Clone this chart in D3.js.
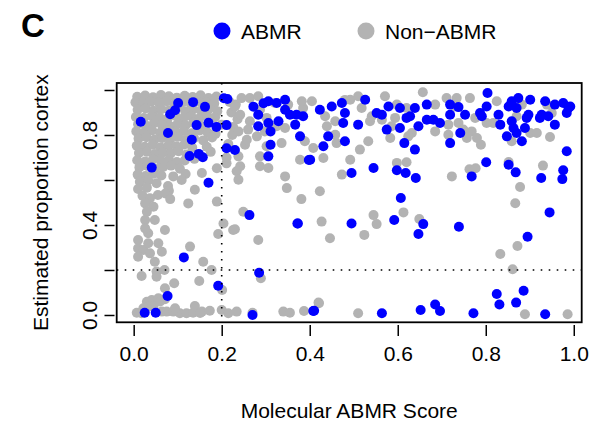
<!DOCTYPE html>
<html><head><meta charset="utf-8">
<script src="https://cdn.jsdelivr.net/npm/d3@7"></script>
<style>body{margin:0;background:#fff}</style>
</head><body>
<svg id="c" width="591" height="424"></svg>
<script>
const xTicks = [0, 0.2, 0.4, 0.6, 0.8, 1.0];
const xTickLabels = ["0.0", "0.2", "0.4", "0.6", "0.8", "1.0"];
const yTicks = [0, 0.2, 0.4, 0.6, 0.8, 1.0];
const yTickLabels = ["0.0", "", "0.4", "", "0.8", ""];
const legendLabels = ["ABMR", "Non\u2212ABMR"];
const seriesColors = ["#0000FF", "#B3B3B3"];
const thresholds = [0.2, 0.2];

const abmrPoints = [
[0.016,0.859],[0.041,0.655],[0.17,0.588],[0.263,0.444],[0.114,0.256],[0.285,0.188],[0.192,0.13],
[0.077,0.084],[0.05,0.01],[0.025,0.01],[0.41,0.019],[0.373,0.407],[0.398,0.689],[0.083,0.892],
[0.094,0.91],[0.101,0.942],[0.135,0.946],[0.162,0.925],[0.143,0.844],[0.17,0.854],[0.188,0.836],
[0.132,0.779],[0.078,0.809],[0.127,0.707],[0.148,0.716],[0.157,0.701],[0.211,0.844],[0.205,0.963],
[0.213,0.96],[0.211,0.741],[0.23,0.733],[0.27,0.0],
[0.272,0.926],[0.295,0.941],[0.306,0.95],[0.325,0.942],[0.344,0.957],[0.344,0.912],[0.355,0.89],
[0.283,0.89],[0.283,0.839],[0.306,0.853],[0.329,0.861],[0.311,0.816],[0.311,0.757],[0.306,0.705],
[0.37,0.89],[0.385,0.883],[0.367,0.846],[0.378,0.794],[0.401,0.69],[0.423,0.912],[0.45,0.927],
[0.473,0.942],[0.48,0.898],[0.476,0.853],[0.442,0.794],[0.431,0.75],[0.48,0.772],[0.495,0.631],
[0.372,0.407],[0.495,0.407],[0.408,0.018],
[0.526,0.957],[0.579,0.927],[0.605,0.92],[0.639,0.92],[0.666,0.935],[0.719,0.935],[0.738,0.924],
[0.753,0.89],[0.564,0.89],[0.552,0.898],[0.62,0.876],[0.628,0.883],[0.666,0.868],[0.681,0.868],
[0.696,0.853],[0.719,0.89],[0.51,0.846],[0.575,0.824],[0.605,0.831],[0.647,0.839],[0.742,0.809],
[0.615,0.764],[0.639,0.735],[0.719,0.764],[0.545,0.653],[0.598,0.643],[0.618,0.631],[0.641,0.609],
[0.768,0.616],[0.607,0.52],[0.592,0.422],[0.658,0.404],[0.647,0.36],[0.739,0.392],[0.564,0.008],
[0.652,0.022],[0.685,0.047],[0.696,0.018],[0.772,0.008],
[0.804,0.987],[0.802,0.927],[0.787,0.898],[0.791,0.883],[0.829,0.89],[0.852,0.927],[0.859,0.95],
[0.874,0.964],[0.87,0.92],[0.901,0.957],[0.897,0.89],[0.893,0.876],[0.935,0.95],[0.927,0.89],
[0.923,0.876],[0.942,0.883],[0.957,0.935],[0.976,0.942],[0.988,0.92],[0.992,0.927],[0.984,0.898],
[0.957,0.846],[0.859,0.861],[0.863,0.831],[0.87,0.809],[0.889,0.831],[0.848,0.794],[0.882,0.772],
[0.833,0.846],[0.984,0.728],[0.801,0.679],[0.852,0.668],[0.868,0.634],[0.926,0.609],[0.976,0.643],
[0.974,0.604],[0.945,0.456],[0.895,0.348],[0.886,0.108],[0.825,0.093],[0.831,0.047],[0.869,0.055],
[0.935,0.003]
];

const nonAbmrPoints = [
[0.008,0.97],[0.026,0.975],[0.044,0.968],[0.062,0.978],[0.08,0.972],[0.098,0.966],[0.116,0.974],[0.134,0.969],[0.152,0.977],[0.17,0.964],[0.188,0.971],
[0.004,0.945],[0.021,0.94],[0.039,0.948],[0.057,0.943],[0.075,0.95],[0.093,0.938],[0.111,0.946],[0.129,0.941],[0.147,0.949],[0.165,0.944],[0.183,0.94],[0.218,0.947],[0.232,0.936],
[0.009,0.912],[0.027,0.918],[0.045,0.908],[0.063,0.915],[0.081,0.91],[0.099,0.92],[0.117,0.906],[0.135,0.914],[0.153,0.909],[0.171,0.917],[0.19,0.905],[0.222,0.9],
[0.005,0.88],[0.023,0.876],[0.041,0.884],[0.059,0.878],[0.077,0.872],[0.095,0.886],[0.113,0.875],[0.131,0.882],[0.149,0.874],[0.167,0.887],[0.185,0.879],[0.236,0.87],
[0.01,0.848],[0.028,0.842],[0.046,0.852],[0.064,0.845],[0.082,0.84],[0.1,0.85],[0.118,0.843],[0.136,0.855],[0.154,0.838],[0.2,0.846],[0.226,0.835],
[0.006,0.816],[0.024,0.812],[0.042,0.82],[0.06,0.81],[0.078,0.822],[0.096,0.814],[0.114,0.818],[0.132,0.808],[0.15,0.82],[0.168,0.811],[0.186,0.805],
[0.011,0.784],[0.029,0.79],[0.047,0.779],[0.065,0.787],[0.083,0.781],[0.101,0.792],[0.119,0.778],[0.137,0.786],[0.158,0.776],[0.178,0.789],[0.224,0.8],
[0.007,0.752],[0.025,0.748],[0.043,0.757],[0.061,0.745],[0.079,0.754],[0.097,0.75],[0.115,0.758],[0.133,0.744],[0.166,0.748],[0.215,0.76],
[0.012,0.72],[0.03,0.726],[0.048,0.715],[0.066,0.722],[0.084,0.718],[0.102,0.728],[0.12,0.713],[0.175,0.725],
[0.008,0.688],[0.026,0.682],[0.044,0.692],[0.062,0.685],[0.08,0.69],[0.098,0.68],[0.116,0.687],[0.138,0.694],
[0.013,0.656],[0.031,0.662],[0.049,0.651],[0.067,0.658],[0.085,0.664],[0.105,0.65],
[0.009,0.624],[0.027,0.618],[0.045,0.628],[0.063,0.62],[0.09,0.616],[0.118,0.627],[0.155,0.631],
[0.014,0.592],[0.033,0.598],[0.052,0.586],[0.078,0.573],[0.109,0.6],[0.139,0.557],
[0.01,0.56],[0.03,0.566],[0.055,0.533],[0.08,0.552],
[0.02,0.53],[0.037,0.519],[0.072,0.54],
[0.189,0.652],[0.211,0.674],[0.211,0.70],
[0.124,0.496],[0.083,0.515],[0.189,0.504],[0.249,0.459],[0.226,0.378],[0.283,0.333],[0.192,0.36],
[0.204,0.407],[0.128,0.304],[0.071,0.378],[0.158,0.237],[0.149,0.151],[0.177,0.20],[0.018,0.173],
[0.052,0.193],[0.092,0.141],[0.071,0.119],[0.201,0.111],[0.289,0.163],[0.42,0.055],
[0.026,0.496],[0.045,0.481],[0.03,0.459],[0.048,0.422],[0.026,0.422],[0.033,0.363],[0.01,0.333],
[0.01,0.296],[0.022,0.289],[0.01,0.259],[0.033,0.319],[0.037,0.274],[0.056,0.319],[0.064,0.281],
[0.048,0.237],[0.07,0.20],[0.052,0.17],[0.026,0.385],
[0.03,0.059],[0.041,0.067],[0.056,0.074],[0.071,0.07],[0.045,0.037],[0.033,0.037],[0.007,0.01],
[0.018,0.008],[0.064,0.015],[0.075,0.015],[0.09,0.015],[0.105,0.008],[0.12,0.008],[0.135,0.01],
[0.139,0.04],[0.155,0.015],[0.173,0.019],[0.2,0.022],[0.094,0.03],[0.022,0.03],[0.06,0.06],
[0.151,0.009],[0.215,0.008],
[0.23,0.381],[0.381,0.515],[0.427,0.415],[0.446,0.341],[0.234,0.015],[0.27,0.01],[0.34,0.015],
[0.355,0.01],[0.387,0.018],[0.421,0.052],
[0.245,0.964],[0.264,0.964],[0.283,0.972],[0.23,0.927],[0.242,0.89],[0.264,0.861],[0.287,0.912],
[0.302,0.876],[0.26,0.824],[0.28,0.794],[0.298,0.816],[0.325,0.839],[0.344,0.831],[0.253,0.757],
[0.238,0.705],[0.242,0.661],[0.234,0.639],[0.238,0.601],[0.287,0.705],[0.287,0.661],[0.306,0.653],
[0.302,0.75],[0.336,0.764],[0.378,0.69],[0.389,0.772],[0.408,0.742],[0.431,0.698],[0.405,0.95],
[0.385,0.92],[0.439,0.839],[0.458,0.861],[0.435,0.883],[0.458,0.801],[0.461,0.764],[0.492,0.69],
[0.473,0.624],[0.344,0.616],[0.348,0.564],[0.423,0.55],[0.321,0.942],[0.351,0.935],[0.382,0.95],
[0.492,0.957],[0.238,0.816],[0.257,0.779],[0.48,0.956],
[0.545,0.444],[0.552,0.404],[0.524,0.356],[0.613,0.456],[0.649,0.427],[0.51,0.008],
[0.657,0.99],[0.51,0.972],[0.571,0.972],[0.518,0.92],[0.598,0.935],[0.62,0.92],[0.685,0.935],
[0.711,0.964],[0.734,0.964],[0.73,0.927],[0.764,0.964],[0.541,0.883],[0.537,0.861],[0.564,0.868],
[0.594,0.876],[0.586,0.839],[0.632,0.809],[0.624,0.794],[0.685,0.816],[0.715,0.846],[0.715,0.801],
[0.738,0.853],[0.749,0.824],[0.757,0.787],[0.768,0.816],[0.533,0.772],[0.514,0.735],[0.583,0.787],
[0.598,0.676],[0.62,0.679],[0.723,0.616],[0.763,0.648],[0.777,0.652],
[0.825,0.95],[0.882,0.935],[0.939,0.935],[0.95,0.898],[0.87,0.883],[0.802,0.853],[0.817,0.853],
[0.776,0.876],[0.901,0.809],[0.916,0.809],[0.859,0.772],[0.946,0.791],[0.789,0.757],[0.78,0.787],
[0.852,0.68],[0.93,0.664],[0.878,0.569],[0.867,0.497],[0.872,0.307],[0.833,0.271],[0.861,0.203],
[0.889,0.003],[0.986,0.003]
];

const svg = d3.select("#c");
const font = "'Liberation Sans', Arial, Helvetica, sans-serif";
const fs = 21;
const x = d3.scaleLinear().domain([-0.0386, 1.018]).range([116.7, 581.7]);
const y = d3.scaleLinear().domain([-0.0325, 1.0311]).range([322.3, 83]);
const [x0, x1] = x.range();
const [y0, y1] = y.range();

svg.append("g").selectAll("circle").data(nonAbmrPoints).join("circle")
  .attr("cx", d => x(d[0])).attr("cy", d => y(d[1])).attr("r", 5).attr("fill", seriesColors[1]);
svg.append("g").selectAll("circle").data(abmrPoints).join("circle")
  .attr("cx", d => x(d[0])).attr("cy", d => y(d[1])).attr("r", 5).attr("fill", seriesColors[0]);

svg.append("line").attr("x1", x(thresholds[0])).attr("x2", x(thresholds[0]))
  .attr("y1", y1).attr("y2", y0)
  .attr("stroke", "#000").attr("stroke-width", 1.6).attr("stroke-dasharray", "1.6,6.4");
svg.append("line").attr("x1", x0).attr("x2", x1)
  .attr("y1", y(thresholds[1])).attr("y2", y(thresholds[1]))
  .attr("stroke", "#000").attr("stroke-width", 1.6).attr("stroke-dasharray", "1.6,6.4");

svg.append("rect").attr("x", x0).attr("y", y1).attr("width", x1 - x0).attr("height", y0 - y1)
  .attr("fill", "none").attr("stroke", "#000").attr("stroke-width", 1.8);

const gx = svg.append("g").attr("transform", "translate(0,325)")
  .call(d3.axisBottom(x).tickValues(xTicks).tickFormat((d, i) => xTickLabels[i]).tickSize(11).tickPadding(10).tickSizeOuter(0));
gx.select(".domain").remove();
gx.selectAll("line").attr("stroke", "#000").attr("stroke-width", 1.5);
gx.selectAll("text").attr("font-family", font).attr("font-size", fs).attr("fill", "#000");

const gy = svg.append("g").attr("transform", "translate(114.5,0)")
  .call(d3.axisLeft(y).tickValues(yTicks).tickFormat((d, i) => yTickLabels[i]).tickSize(10).tickSizeOuter(0));
gy.select(".domain").remove();
gy.selectAll("line").attr("stroke", "#000").attr("stroke-width", 1.5);
gy.selectAll("text").attr("x", null).attr("dy", null).attr("text-anchor", "middle")
  .attr("transform", "translate(-18,0) rotate(-90)")
  .attr("font-family", font).attr("font-size", fs).attr("fill", "#000");

svg.append("text").attr("x", (x0 + x1) / 2).attr("y", 418).attr("text-anchor", "middle")
  .attr("font-family", font).attr("font-size", fs).text("Molecular ABMR Score");
svg.append("text").attr("transform", `translate(48,${(y0 + y1) / 2}) rotate(-90)`).attr("text-anchor", "middle")
  .attr("font-family", font).attr("font-size", fs).text("Estimated proportion cortex");

svg.append("text").attr("x", 21).attr("y", 37).attr("font-family", font).attr("font-size", 33)
  .attr("font-weight", "bold").text("C");

const legendX = [222, 366];
legendLabels.forEach((lab, i) => {
  svg.append("circle").attr("cx", legendX[i]).attr("cy", 31).attr("r", 8.5).attr("fill", seriesColors[i]);
  svg.append("text").attr("x", legendX[i] + 19).attr("y", 38.5).attr("font-family", font)
    .attr("font-size", fs).text(lab);
});
</script>
</body></html>
